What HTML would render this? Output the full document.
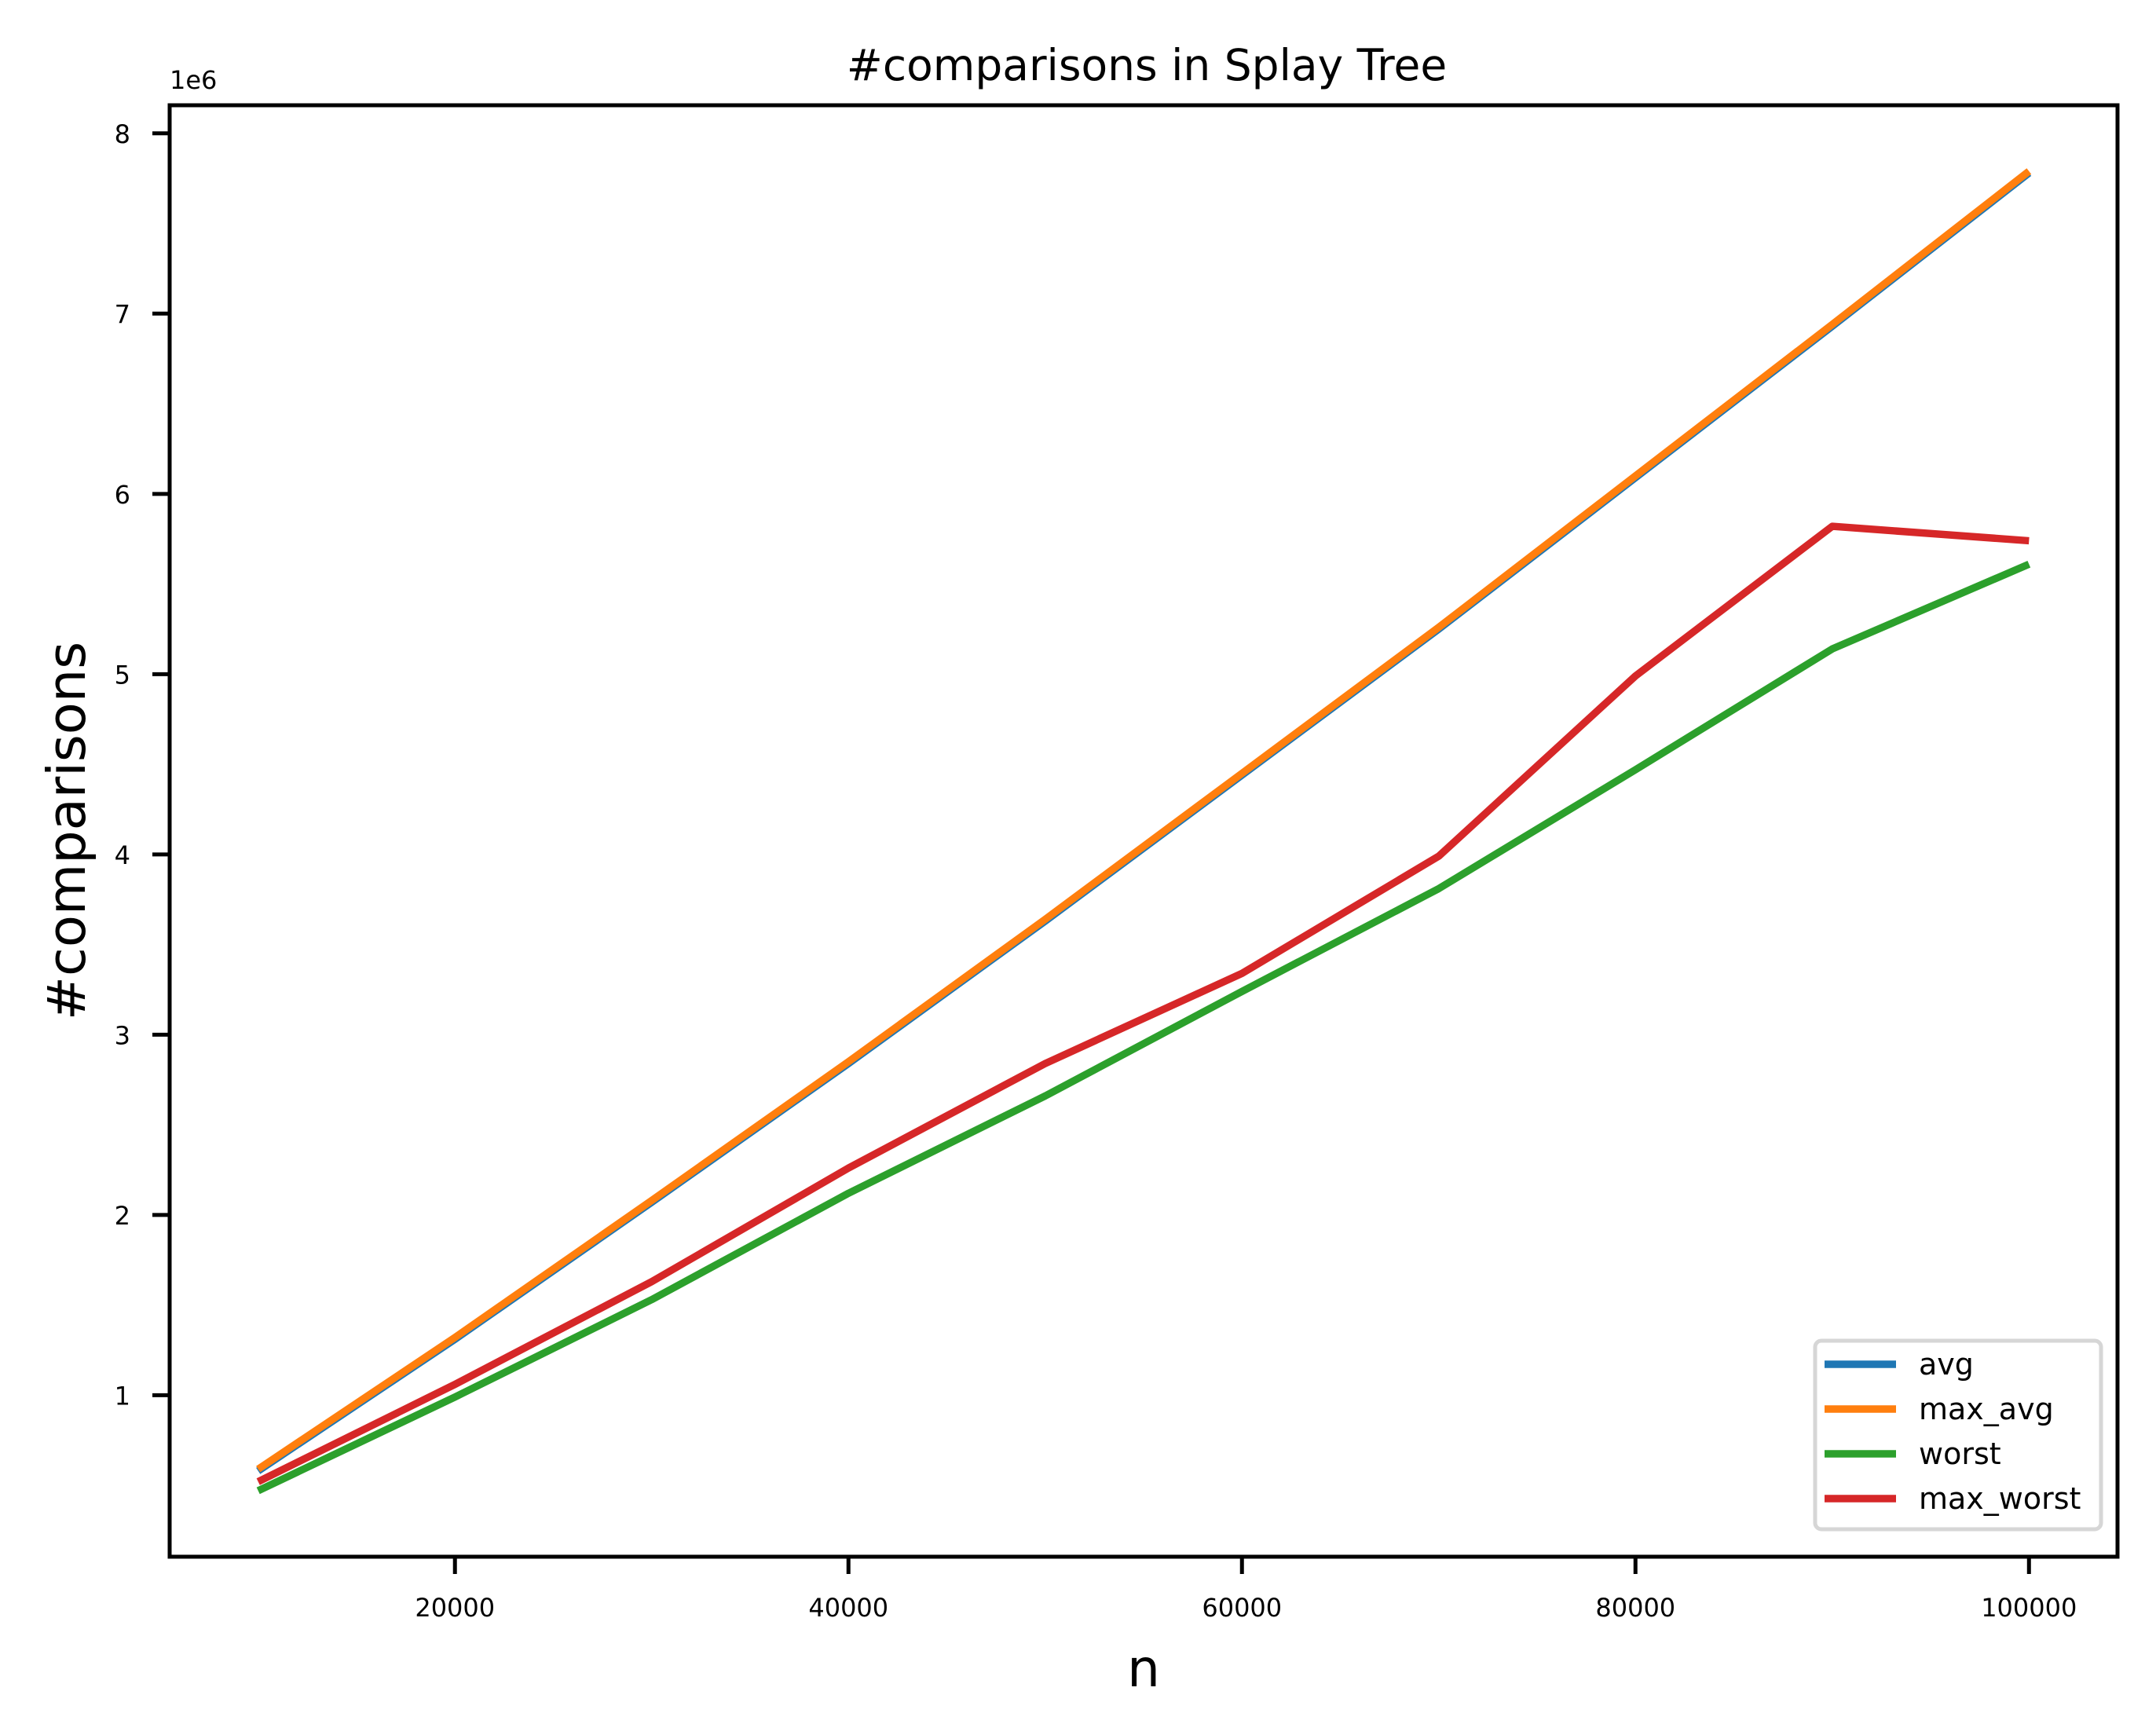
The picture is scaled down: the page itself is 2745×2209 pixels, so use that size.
<!DOCTYPE html>
<html><head><meta charset="utf-8"><style>
html,body{margin:0;padding:0;background:#fff;}
svg{display:block;font-family:"DejaVu Sans","Liberation Sans",sans-serif;}
</style></head><body>
<svg id="chart" width="2745" height="2209" viewBox="0 0 2745 2209">
<rect width="2745" height="2209" fill="#fff"/>
<text x="1460" y="102" font-size="55" text-anchor="middle">#comparisons in Splay Tree</text>
<text x="1456" y="2147" font-size="66" text-anchor="middle">n</text>
<text transform="translate(108,1058) rotate(-90)" font-size="67" text-anchor="middle">#comparisons</text>
<text x="216" y="113" font-size="32">1e6</text>
<g id="ticks"></g>
<g id="series"></g>
<rect x="216" y="134" width="2480" height="1848" fill="none" stroke="#000" stroke-width="5"/>
<g id="legend">
<rect x="2311" y="1707" width="364" height="240" rx="8" fill="#fff" fill-opacity="0.8" stroke="#d6d6d6" stroke-width="5"/>
</g>
</svg>
<script>
const categories = [10000, 20000, 30000, 40000, 50000, 60000, 70000, 80000, 90000, 100000];
const avgValues = [0.58, 1.31, 2.07, 2.84, 3.63, 4.44, 5.25, 6.09, 6.93, 7.78];
const maxAvgValues = [0.59, 1.32, 2.08, 2.85, 3.64, 4.45, 5.26, 6.10, 6.94, 7.79];
const worstValues = [0.47, 0.99, 1.53, 2.12, 2.66, 3.24, 3.81, 4.47, 5.14, 5.61];
const maxWorstValues = [0.52, 1.06, 1.63, 2.26, 2.84, 3.34, 3.99, 4.99, 5.82, 5.74];
const xTicks = [20000, 40000, 60000, 80000, 100000];
const yTicks = [1, 2, 3, 4, 5, 6, 7, 8];
const seriesNames = ["avg", "max_avg", "worst", "max_worst"];
const seriesColors = ["#1f77b4", "#ff7f0e", "#2ca02c", "#d62728"];

const NS = "http://www.w3.org/2000/svg";
const L = 216, R = 2696, T = 134, B = 1982;
const allSeries = [avgValues, maxAvgValues, worstValues, maxWorstValues];
const xMinD = Math.min(...categories), xMaxD = Math.max(...categories);
const xPad = (xMaxD - xMinD) * 0.05;
const flat = allSeries.flat();
const yMinD = Math.min(...flat), yMaxD = Math.max(...flat);
const yPad = (yMaxD - yMinD) * 0.05;
function xScale(v){ return L + (v - (xMinD - xPad)) / ((xMaxD + xPad) - (xMinD - xPad)) * (R - L); }
function yScale(v){ return B - (v - (yMinD - yPad)) / ((yMaxD + yPad) - (yMinD - yPad)) * (B - T); }

const tg = document.getElementById("ticks");
xTicks.forEach(t => {
  const x = xScale(t);
  const ln = document.createElementNS(NS, "line");
  ln.setAttribute("x1", x); ln.setAttribute("x2", x);
  ln.setAttribute("y1", B); ln.setAttribute("y2", B + 22);
  ln.setAttribute("stroke", "#000"); ln.setAttribute("stroke-width", "5");
  
  
  tg.appendChild(ln);
  const tx = document.createElementNS(NS, "text");
  tx.setAttribute("x", x); tx.setAttribute("y", B + 76);
  tx.setAttribute("font-size", "32"); tx.setAttribute("text-anchor", "middle");
  tx.textContent = String(t);
  
  
  tg.appendChild(tx);
});
yTicks.forEach(t => {
  const y = yScale(t);
  const ln = document.createElementNS(NS, "line");
  ln.setAttribute("x1", L - 22); ln.setAttribute("x2", L);
  ln.setAttribute("y1", y); ln.setAttribute("y2", y);
  ln.setAttribute("stroke", "#000"); ln.setAttribute("stroke-width", "5");
  
  
  tg.appendChild(ln);
  const tx = document.createElementNS(NS, "text");
  tx.setAttribute("x", L - 50); tx.setAttribute("y", y + 12);
  tx.setAttribute("font-size", "32"); tx.setAttribute("text-anchor", "end");
  tx.textContent = String(t);
  
  
  tg.appendChild(tx);
});

const sg = document.getElementById("series");
allSeries.forEach((vals, i) => {
  const pts = vals.map((v, j) => xScale(categories[j]).toFixed(1) + "," + yScale(v).toFixed(1)).join(" ");
  const pl = document.createElementNS(NS, "polyline");
  pl.setAttribute("points", pts);
  pl.setAttribute("fill", "none");
  pl.setAttribute("stroke", seriesColors[i]);
  pl.setAttribute("stroke-width", "9.4");
  pl.setAttribute("stroke-linejoin", "round");
  
  
  sg.appendChild(pl);
});

const lg = document.getElementById("legend");
seriesNames.forEach((n, i) => {
  const y = 1737 + i * 57;
  const ln = document.createElementNS(NS, "line");
  ln.setAttribute("x1", 2323); ln.setAttribute("x2", 2414);
  ln.setAttribute("y1", y); ln.setAttribute("y2", y);
  ln.setAttribute("stroke", seriesColors[i]); ln.setAttribute("stroke-width", "9.4");
  
  
  lg.appendChild(ln);
  const tx = document.createElementNS(NS, "text");
  tx.setAttribute("x", 2443); tx.setAttribute("y", y + 13);
  tx.setAttribute("font-size", "38");
  tx.textContent = n;
  
  
  lg.appendChild(tx);
});
</script>
</body></html>
